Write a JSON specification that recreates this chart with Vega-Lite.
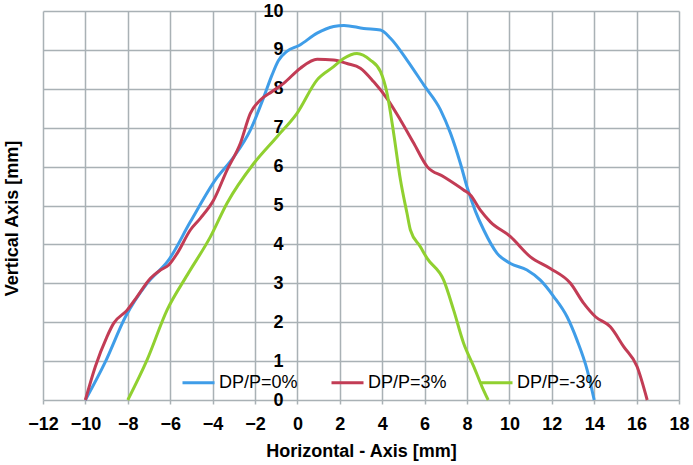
{
  "$schema": "https://vega.github.io/schema/vega-lite/v6.json",
  "width": 636,
  "height": 389,
  "autosize": {"type": "none"},
  "padding": {"left": 43, "top": 11, "right": 14, "bottom": 65},
  "background": "white",
  "config": {
    "view": {"stroke": null},
    "font": "Liberation Sans"
  },
  "data": {
    "values": [
      {"s": "DP/P=0%", "x": -10, "y": 0},
      {"s": "DP/P=0%", "x": -9.06, "y": 0.98},
      {"s": "DP/P=0%", "x": -8.11, "y": 2.14},
      {"s": "DP/P=0%", "x": -7.09, "y": 3.0},
      {"s": "DP/P=0%", "x": -6.07, "y": 3.6},
      {"s": "DP/P=0%", "x": -5.05, "y": 4.58},
      {"s": "DP/P=0%", "x": -3.87, "y": 5.66},
      {"s": "DP/P=0%", "x": -3.0, "y": 6.25},
      {"s": "DP/P=0%", "x": -2.22, "y": 6.94},
      {"s": "DP/P=0%", "x": -1.59, "y": 7.78},
      {"s": "DP/P=0%", "x": -1.2, "y": 8.35},
      {"s": "DP/P=0%", "x": -0.9, "y": 8.72},
      {"s": "DP/P=0%", "x": -0.5, "y": 8.96},
      {"s": "DP/P=0%", "x": 0.1, "y": 9.12},
      {"s": "DP/P=0%", "x": 0.93, "y": 9.43},
      {"s": "DP/P=0%", "x": 1.71, "y": 9.6},
      {"s": "DP/P=0%", "x": 2.2, "y": 9.63},
      {"s": "DP/P=0%", "x": 3.13, "y": 9.55},
      {"s": "DP/P=0%", "x": 3.92, "y": 9.51},
      {"s": "DP/P=0%", "x": 4.39, "y": 9.3},
      {"s": "DP/P=0%", "x": 5.17, "y": 8.74},
      {"s": "DP/P=0%", "x": 5.96, "y": 8.1},
      {"s": "DP/P=0%", "x": 6.75, "y": 7.46},
      {"s": "DP/P=0%", "x": 7.22, "y": 6.86},
      {"s": "DP/P=0%", "x": 7.69, "y": 6.08},
      {"s": "DP/P=0%", "x": 8.0, "y": 5.48},
      {"s": "DP/P=0%", "x": 8.4, "y": 4.85},
      {"s": "DP/P=0%", "x": 8.79, "y": 4.37},
      {"s": "DP/P=0%", "x": 9.42, "y": 3.77},
      {"s": "DP/P=0%", "x": 10.05, "y": 3.51},
      {"s": "DP/P=0%", "x": 10.83, "y": 3.34},
      {"s": "DP/P=0%", "x": 11.46, "y": 3.08},
      {"s": "DP/P=0%", "x": 12.09, "y": 2.66},
      {"s": "DP/P=0%", "x": 12.72, "y": 2.14},
      {"s": "DP/P=0%", "x": 13.19, "y": 1.54},
      {"s": "DP/P=0%", "x": 13.67, "y": 0.77},
      {"s": "DP/P=0%", "x": 14.0, "y": 0},
      {"s": "DP/P=3%", "x": -10, "y": 0},
      {"s": "DP/P=3%", "x": -9.53, "y": 0.86},
      {"s": "DP/P=3%", "x": -8.98, "y": 1.63},
      {"s": "DP/P=3%", "x": -8.67, "y": 1.97},
      {"s": "DP/P=3%", "x": -8.03, "y": 2.31},
      {"s": "DP/P=3%", "x": -7.56, "y": 2.66},
      {"s": "DP/P=3%", "x": -6.93, "y": 3.13},
      {"s": "DP/P=3%", "x": -6.46, "y": 3.34},
      {"s": "DP/P=3%", "x": -6.07, "y": 3.47},
      {"s": "DP/P=3%", "x": -5.67, "y": 3.77},
      {"s": "DP/P=3%", "x": -5.05, "y": 4.37},
      {"s": "DP/P=3%", "x": -4.58, "y": 4.67},
      {"s": "DP/P=3%", "x": -3.95, "y": 5.14},
      {"s": "DP/P=3%", "x": -3.32, "y": 5.91},
      {"s": "DP/P=3%", "x": -2.69, "y": 6.6},
      {"s": "DP/P=3%", "x": -2.22, "y": 7.37},
      {"s": "DP/P=3%", "x": -1.75, "y": 7.71},
      {"s": "DP/P=3%", "x": -1.19, "y": 7.93},
      {"s": "DP/P=3%", "x": -0.65, "y": 8.14},
      {"s": "DP/P=3%", "x": 0.14, "y": 8.53},
      {"s": "DP/P=3%", "x": 0.93, "y": 8.76},
      {"s": "DP/P=3%", "x": 1.71, "y": 8.74},
      {"s": "DP/P=3%", "x": 2.34, "y": 8.65},
      {"s": "DP/P=3%", "x": 2.97, "y": 8.53},
      {"s": "DP/P=3%", "x": 3.6, "y": 8.18},
      {"s": "DP/P=3%", "x": 4.23, "y": 7.75},
      {"s": "DP/P=3%", "x": 4.86, "y": 7.2},
      {"s": "DP/P=3%", "x": 5.49, "y": 6.6},
      {"s": "DP/P=3%", "x": 6.12, "y": 6.0},
      {"s": "DP/P=3%", "x": 6.9, "y": 5.74},
      {"s": "DP/P=3%", "x": 7.84, "y": 5.4},
      {"s": "DP/P=3%", "x": 8.16, "y": 5.27},
      {"s": "DP/P=3%", "x": 8.63, "y": 4.88},
      {"s": "DP/P=3%", "x": 9.1, "y": 4.58},
      {"s": "DP/P=3%", "x": 10.05, "y": 4.2},
      {"s": "DP/P=3%", "x": 10.99, "y": 3.68},
      {"s": "DP/P=3%", "x": 11.93, "y": 3.38},
      {"s": "DP/P=3%", "x": 12.88, "y": 3.0},
      {"s": "DP/P=3%", "x": 13.5, "y": 2.49},
      {"s": "DP/P=3%", "x": 14.06, "y": 2.14},
      {"s": "DP/P=3%", "x": 14.76, "y": 1.88},
      {"s": "DP/P=3%", "x": 15.39, "y": 1.37},
      {"s": "DP/P=3%", "x": 16.02, "y": 0.86},
      {"s": "DP/P=3%", "x": 16.5, "y": 0},
      {"s": "DP/P=-3%", "x": -8, "y": 0},
      {"s": "DP/P=-3%", "x": -7.09, "y": 1.03},
      {"s": "DP/P=-3%", "x": -6.15, "y": 2.31},
      {"s": "DP/P=-3%", "x": -5.2, "y": 3.21},
      {"s": "DP/P=-3%", "x": -4.1, "y": 4.2},
      {"s": "DP/P=-3%", "x": -3.32, "y": 5.06},
      {"s": "DP/P=-3%", "x": -2.06, "y": 6.08},
      {"s": "DP/P=-3%", "x": -0.96, "y": 6.77},
      {"s": "DP/P=-3%", "x": -0.02, "y": 7.37},
      {"s": "DP/P=-3%", "x": 0.93, "y": 8.23},
      {"s": "DP/P=-3%", "x": 1.71, "y": 8.57},
      {"s": "DP/P=-3%", "x": 2.18, "y": 8.78},
      {"s": "DP/P=-3%", "x": 2.81, "y": 8.91},
      {"s": "DP/P=-3%", "x": 3.44, "y": 8.74},
      {"s": "DP/P=-3%", "x": 3.92, "y": 8.44},
      {"s": "DP/P=-3%", "x": 4.23, "y": 7.88},
      {"s": "DP/P=-3%", "x": 4.54, "y": 6.86},
      {"s": "DP/P=-3%", "x": 4.86, "y": 5.66},
      {"s": "DP/P=-3%", "x": 5.17, "y": 4.8},
      {"s": "DP/P=-3%", "x": 5.33, "y": 4.37},
      {"s": "DP/P=-3%", "x": 5.8, "y": 3.94},
      {"s": "DP/P=-3%", "x": 6.12, "y": 3.64},
      {"s": "DP/P=-3%", "x": 6.9, "y": 3.08},
      {"s": "DP/P=-3%", "x": 7.37, "y": 2.31},
      {"s": "DP/P=-3%", "x": 7.84, "y": 1.46},
      {"s": "DP/P=-3%", "x": 8.32, "y": 0.86},
      {"s": "DP/P=-3%", "x": 8.71, "y": 0.34},
      {"s": "DP/P=-3%", "x": 9.0, "y": 0}
    ]
  },
  "mark": {"type": "line", "interpolate": "monotone", "strokeWidth": 3},
  "encoding": {
    "x": {
      "field": "x",
      "type": "quantitative",
      "scale": {"domain": [-12, 18], "nice": false, "zero": false},
      "axis": {
        "values": [-12, -10, -8, -6, -4, -2, 0, 2, 4, 6, 8, 10, 12, 14, 16, 18],
        "title": "Horizontal - Axis [mm]",
        "titleFont": "Liberation Sans",
        "titleFontSize": 18,
        "titleFontWeight": "bold",
        "titleColor": "#000000",
        "titlePadding": 9,
        "labelFont": "Liberation Sans",
        "labelFontSize": 18,
        "labelFontWeight": "bold",
        "labelColor": "#000000",
        "labelPadding": 11,
        "labelFlush": false,
        "labelOverlap": false,
        "domain": false,
        "ticks": true,
        "tickSize": 4,
        "tickColor": "#a9b1b5",
        "tickWidth": 1.5,
        "grid": true,
        "gridColor": "#a9b1b5",
        "gridWidth": 1.5,
        "gridOpacity": 1
      }
    },
    "y": {
      "field": "y",
      "type": "quantitative",
      "scale": {"domain": [0, 10], "nice": false},
      "axis": {
        "values": [0, 1, 2, 3, 4, 5, 6, 7, 8, 9, 10],
        "offset": -254,
        "title": "Vertical Axis [mm]",
        "titleFont": "Liberation Sans",
        "titleFontSize": 18,
        "titleFontWeight": "bold",
        "titleColor": "#000000",
        "titleX": -285,
        "titleY": 207,
        "titleAngle": -90,
        "titleAlign": "center",
        "titleBaseline": "middle",
        "labelFont": "Liberation Sans",
        "labelFontSize": 18,
        "labelFontWeight": "bold",
        "labelColor": "#000000",
        "labelPadding": 14,
        "labelFlush": false,
        "labelOverlap": false,
        "domain": false,
        "ticks": false,
        "grid": true,
        "gridColor": "#a9b1b5",
        "gridWidth": 1.5,
        "gridOpacity": 1
      }
    },
    "color": {
      "field": "s",
      "type": "nominal",
      "scale": {
        "domain": ["DP/P=0%", "DP/P=3%", "DP/P=-3%"],
        "range": ["#3f9de8", "#c23c55", "#90d030"]
      },
      "legend": {
        "title": null,
        "orient": "none",
        "direction": "horizontal",
        "legendX": 138,
        "legendY": 354,
        "padding": 0,
        "symbolType": "stroke",
        "symbolSize": 1024,
        "symbolStrokeWidth": 3,
        "labelFont": "Liberation Sans",
        "labelFontSize": 18,
        "labelColor": "#000000",
        "labelOffset": 3,
        "columnPadding": 27,
        "labelLimit": 200
      }
    }
  }
}
